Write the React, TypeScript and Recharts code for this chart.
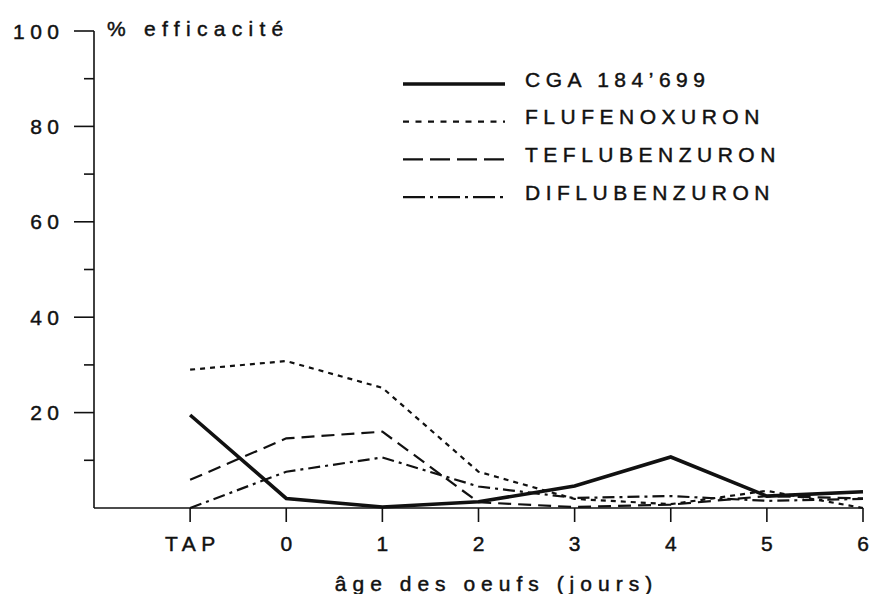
import React from 'react';
import { LineChart, Line, XAxis, YAxis, Legend, Label } from 'recharts';

// days after egg laying; TAP (treatment before laying) is placed at -1
const DAYS = [-1, 0, 1, 2, 3, 4, 5, 6];
const DAY_LABELS = ['TAP', '0', '1', '2', '3', '4', '5', '6'];
const Y_TICKS = [0, 10, 20, 30, 40, 50, 60, 70, 80, 90, 100];

// % efficacité per product
const CGA = [19.5, 2, 0.2, 1.3, 4.6, 10.7, 2.5, 3.4];
const FLUFENOXURON = [29, 30.8, 25.2, 7.6, 1.9, 0.8, 3.6, 0];
const TEFLUBENZURON = [5.9, 14.6, 16, 1.2, 0.2, 0.7, 2.5, 2];
const DIFLUBENZURON = [0, 7.6, 10.6, 4.5, 2.1, 2.5, 1.5, 1.9];

const INK = '#111';
const FONT = '"Liberation Sans", Arial, Helvetica, sans-serif';

const SERIES = [
    { key: 'cga', name: 'CGA 184’699', width: 3.6, dash: undefined, legendDash: undefined },
    { key: 'fluf', name: 'FLUFENOXURON', width: 2.2, dash: '5 5', legendDash: '6 6.5' },
    { key: 'tefl', name: 'TEFLUBENZURON', width: 2.2, dash: '13 7', legendDash: '20 7' },
    { key: 'difl', name: 'DIFLUBENZURON', width: 2.2, dash: '12 5 3 5', legendDash: '22 5 3 5' },
];

const data = DAYS.map((day, i) => ({
    day,
    cga: CGA[i],
    fluf: FLUFENOXURON[i],
    tefl: TEFLUBENZURON[i],
    difl: DIFLUBENZURON[i],
}));

// scanned print look: slightly heavier glyphs, wide tracking
const textStyle = {
    fontFamily: FONT,
    fontSize: 21,
    fill: INK,
    stroke: INK,
    strokeWidth: 0.45,
    letterSpacing: 5.5,
};

const YTick = (props: any) => {
    const { x, y, payload } = props;
    const v = payload.value as number;
    if (v === 0) return <g />;
    const major = v % 20 === 0;
    return (
        <g>
            <line x1={x - (major ? 20 : 10)} x2={x} y1={y} y2={y} stroke={INK} strokeWidth={1.6} />
            {major && (
                <text x={x - 35 + 5.5} y={y} textAnchor="end" dominantBaseline="central" style={textStyle}>
                    {v}
                </text>
            )}
        </g>
    );
};

const XTick = (props: any) => {
    const { x, y, payload } = props;
    const idx = DAYS.indexOf(payload.value);
    return (
        <g>
            <line x1={x} x2={x} y1={y} y2={y + 14} stroke={INK} strokeWidth={1.6} />
            <text x={x + 2.75} y={y + 35} textAnchor="middle" dominantBaseline="central" style={textStyle}>
                {DAY_LABELS[idx]}
            </text>
        </g>
    );
};

const renderLegend = () => (
    <svg width={420} height={160}>
        {SERIES.map((s, i) => {
            const ly = 24 + i * 37.7;
            return (
                <g key={s.key}>
                    <line x1={3} x2={105} y1={ly} y2={ly} stroke={INK} strokeWidth={s.width} strokeDasharray={s.legendDash} />
                    <text x={125} y={ly - 5} dominantBaseline="central" style={textStyle}>
                        {s.name}
                    </text>
                </g>
            );
        })}
    </svg>
);

export default function App() {
    return (
        <div style={{ position: 'absolute', left: 0, top: 0, width: 874, height: 594, background: '#fff' }}>
            <LineChart width={874} height={594} data={data} margin={{ top: 31, right: 11, left: 0, bottom: 0 }}>
                <XAxis
                    dataKey="day"
                    type="number"
                    domain={[-2, 6]}
                    ticks={DAYS}
                    interval={0}
                    height={86}
                    tickLine={false}
                    tickSize={0}
                    tickMargin={0}
                    axisLine={{ stroke: INK, strokeWidth: 1.6 }}
                    tick={(p: any) => <XTick {...p} />}
                >
                    <Label
                        content={({ viewBox }: any) => (
                            <text
                                x={viewBox.x + viewBox.width / 2 + 18}
                                y={viewBox.y + 75}
                                textAnchor="middle"
                                dominantBaseline="central"
                                style={{ ...textStyle, letterSpacing: 6 }}
                            >
                                âge des oeufs (jours)
                            </text>
                        )}
                    />
                </XAxis>
                <YAxis
                    type="number"
                    domain={[0, 100]}
                    ticks={Y_TICKS}
                    interval={0}
                    width={94}
                    tickLine={false}
                    tickSize={0}
                    tickMargin={0}
                    axisLine={{ stroke: INK, strokeWidth: 1.6 }}
                    tick={(p: any) => <YTick {...p} />}
                >
                    <Label
                        content={({ viewBox }: any) => (
                            <text
                                x={viewBox.x + viewBox.width + 13}
                                y={viewBox.y - 3}
                                dominantBaseline="central"
                                style={{ ...textStyle, letterSpacing: 6.3 }}
                            >
                                % efficacité
                            </text>
                        )}
                    />
                </YAxis>
                <Legend
                    layout="vertical"
                    align="center"
                    verticalAlign="middle"
                    wrapperStyle={{ left: 400, top: 60, width: 420, height: 160 }}
                    content={renderLegend}
                />
                {SERIES.map((s) => (
                    <Line
                        key={s.key}
                        dataKey={s.key}
                        name={s.name}
                        type="linear"
                        stroke={INK}
                        strokeWidth={s.width}
                        strokeDasharray={s.dash}
                        dot={false}
                        activeDot={false}
                        isAnimationActive={false}
                    />
                ))}
            </LineChart>
        </div>
    );
}
